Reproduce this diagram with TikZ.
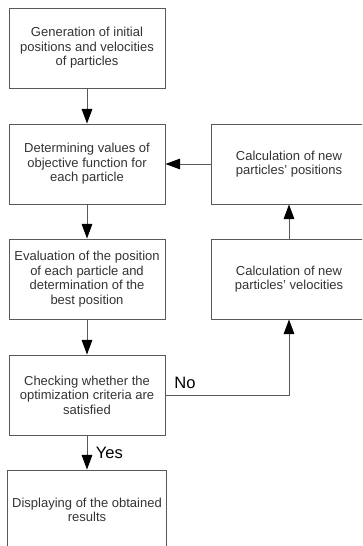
\documentclass[tikz,border=0pt]{standalone}
\usepackage{fontspec}
\setmainfont{Liberation Sans}
\usetikzlibrary{arrows.meta}

\begin{document}
\begin{tikzpicture}[x=0.75pt,y=-0.75pt,
        box/.style={draw=black!65,line width=0.7pt,minimum width=117pt,minimum height=60pt,
            align=center,text=black!80,font=\fontsize{9.75}{10.9}\selectfont},
        flow/.style={draw=black!65,line width=0.7pt,-{Triangle[length=11pt,width=8pt,color=black]}},
        answer/.style={text=black,font=\fontsize{12.4}{14}\selectfont}]
        \useasboundingbox (0,0) rectangle (362,546);
        \clip (0,0) rectangle (362,546);

        \node[box] (init) at (87,48) {Generation of initial\\ positions and velocities\\ of particles};
        \node[box] (objective) at (87,164) {Determining values of\\ objective function for\\ each particle};
        \node[box] (evaluate) at (87,279) {Evaluation of the position\\ of each particle and\\ determination of the\\ best position};
        \node[box] (check) at (87,395) {Checking whether the\\ optimization criteria are\\ satisfied};
        \node[box] (results) at (87,510) {Displaying of the obtained\\ results};

        \node[box] (positions) at (289,164) {Calculation of new\\ particles' positions};
        \node[box] (velocities) at (289,279) {Calculation of new\\ particles' velocities};

        \draw[flow] (init) -- (objective);
        \draw[flow] (objective) -- (evaluate);
        \draw[flow] (evaluate) -- (check);
        \draw[flow] (check) -- node[answer,right,xshift=3pt]{Yes} (results);
        \draw[flow] (check.east) node[answer,above right,xshift=3pt,yshift=1pt]{No} -| (velocities.south);
        \draw[flow] (velocities) -- (positions);
        \draw[flow] (positions) -- (objective);
    \end{tikzpicture}
\end{document}
